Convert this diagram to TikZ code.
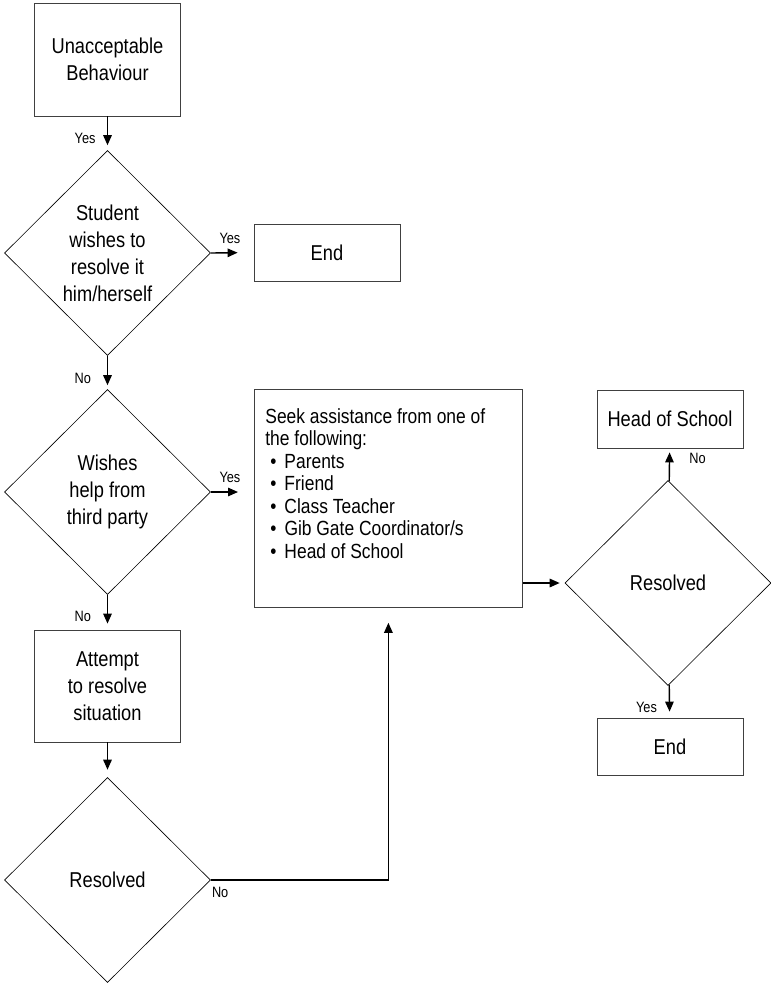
\documentclass[tikz,border=0pt]{standalone}
\usepackage{fontspec}
\setmainfont[FakeStretch=0.85]{Liberation Sans}
\usetikzlibrary{shapes.geometric, arrows.meta}

\begin{document}
\begin{tikzpicture}[x=1pt, y=-1pt,
    box/.style    = {draw=black!75, line width=0.8pt, minimum width=146pt, align=center,
                     font=\fontsize{21.5}{27}\selectfont},
    choice/.style = {draw, diamond, line width=0.6pt, minimum width=206pt, minimum height=205pt,
                     inner sep=0pt, align=center, font=\fontsize{21.5}{27}\selectfont},
    flow/.style   = {line width=1.4pt, -{Triangle[length=10pt, width=8.5pt]}},
    answer/.style = {font=\fontsize{15}{17}\selectfont, inner sep=1pt}]

  \useasboundingbox (0,0) rectangle (771,986);

  % left column
  \node[box, minimum height=113pt] (start)   at (107.5, 59.5) {Unacceptable\\Behaviour};
  \node[choice]                    (self)    at (107.5, 253)  {Student\\wishes to\\resolve it\\him/herself};
  \node[choice]                    (third)   at (107.5, 492)  {Wishes\\help from\\third party};
  \node[box, minimum height=112pt] (attempt) at (107.5, 686)  {Attempt\\to resolve\\situation};
  \node[choice]                    (check)   at (107.5, 880)  {Resolved};

  % right side
  \node[box, minimum height=57pt]  (endA)    at (327, 252.5)  {End};
  \node[box, anchor=north west, inner xsep=11pt, inner ysep=19pt, align=left,
        font=\fontsize{20.5}{22.5}\selectfont] (seek) at (254, 389)
    {\parbox[t][180pt][t]{246pt}{Seek assistance from one of\\
      the following:\\
      \hspace*{5pt}\textbullet\hspace{8pt}Parents\\
      \hspace*{5pt}\textbullet\hspace{8pt}Friend\\
      \hspace*{5pt}\textbullet\hspace{8pt}Class Teacher\\
      \hspace*{5pt}\textbullet\hspace{8pt}Gib Gate Coordinator/s\\
      \hspace*{5pt}\textbullet\hspace{8pt}Head of School}};
  \node[choice]                    (final)   at (668, 583)    {Resolved};
  \node[box, minimum height=58pt]  (head)    at (670, 419)    {Head of School};
  \node[box, minimum height=57pt]  (endB)    at (670, 746.5)  {End};

  % connectors
  \draw[flow, shorten >=5pt] (start) --
    node[answer, pos=1, anchor=south west, xshift=-34.5pt, yshift=5pt] (yesA) {Yes} (self);
  \draw[flow, shorten >=16pt] (self.east) --
    node[answer, pos=0, anchor=south west, xshift=7pt, yshift=8pt] (yesB) {Yes} (endA.west);
  \draw[flow, shorten >=4pt] (self) --
    node[answer, pos=1, anchor=south west, xshift=-34.5pt, yshift=4pt] (noA) {No} (third);
  \draw[flow, shorten >=16pt] (third.east) --
    node[answer, pos=0, anchor=south west, xshift=7pt, yshift=8pt] (yesC) {Yes} (third.east -| seek.west);
  \draw[flow, shorten >=6pt] (third) --
    node[answer, pos=1, anchor=south west, xshift=-34.5pt, yshift=6pt] (noB) {No} (attempt);
  \draw[flow, shorten >=7.5pt] (attempt) -- (check);
  \draw[flow, shorten >=15pt] (check.east) -| (seek.south);
  \node[answer, anchor=north west, yshift=-6pt] (noC) at (check.east) {No};

  \draw[flow, shorten >=5pt] (seek.east |- final.west) -- (final.west);
  \draw[flow, shorten >=4pt] (final) --
    node[answer, pos=1, anchor=north west, xshift=18pt, yshift=-3pt] (noD) {No} (head);
  \draw[flow, shorten >=6pt] (final) --
    node[answer, pos=1, anchor=south east, xshift=-11pt, yshift=3pt] (yesD) {Yes} (endB);

\end{tikzpicture}
\end{document}
